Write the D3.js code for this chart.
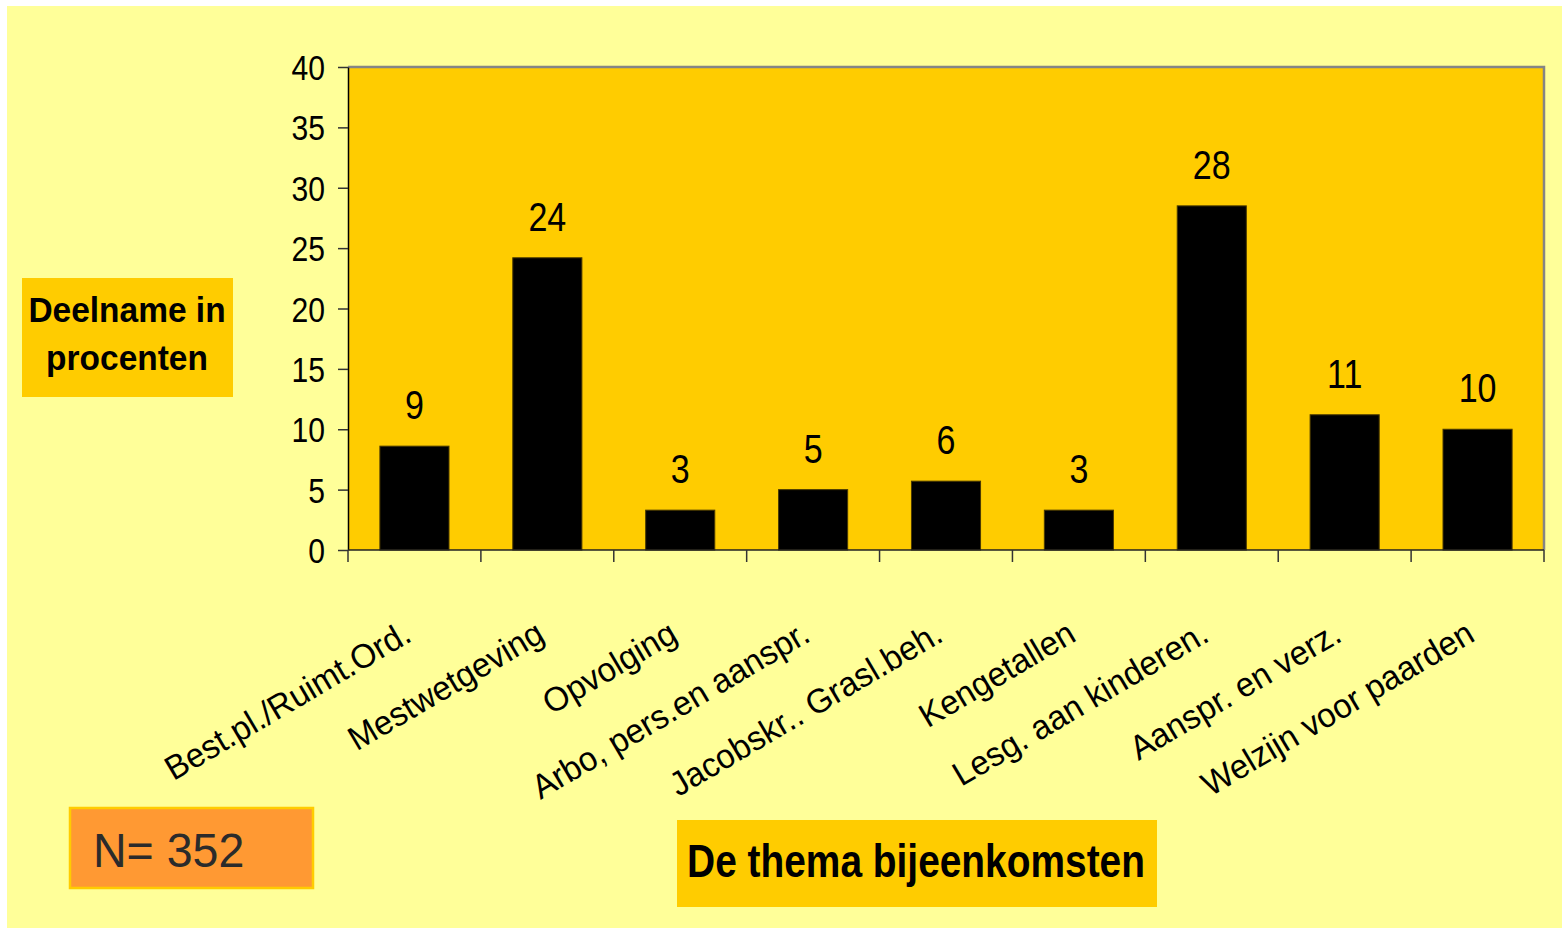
<!DOCTYPE html>
<html>
<head>
<meta charset="utf-8">
<script src="https://cdn.jsdelivr.net/npm/d3@7"></script>
<style>
  body { margin: 0; background: #ffffff; }
  svg { display: block; font-family: "Liberation Sans", Arial, sans-serif; }
</style>
</head>
<body>
<div id="chart"></div>
<script>
  const themes = [
    'Best.pl./Ruimt.Ord.',
    'Mestwetgeving',
    'Opvolging',
    'Arbo, pers.en aanspr.',
    'Jacobskr.. Grasl.beh.',
    'Kengetallen',
    'Lesg. aan kinderen.',
    'Aanspr. en verz.',
    'Welzijn voor paarden'
  ];
  const percentages = [8.6, 24.2, 3.3, 5.0, 5.7, 3.3, 28.5, 11.2, 10.0];
  const valueLabels = ['9', '24', '3', '5', '6', '3', '28', '11', '10'];
  const yTicks = [0, 5, 10, 15, 20, 25, 30, 35, 40];

  const yTitleLines = ['Deelname in', 'procenten'];
  const xTitle = 'De thema bijeenkomsten';
  const nLabel = 'N= 352';

  const width = 1562, height = 928;
  const plot = {left: 348, right: 1544, top: 67, bottom: 550};

  const data = themes.map((t, i) => ({theme: t, value: percentages[i], label: valueLabels[i]}));

  const svg = d3.select("#chart")
    .append("svg")
    .attr("width", width)
    .attr("height", height);

  // pale yellow slide background
  svg.append("rect")
    .attr("x", 7).attr("y", 6)
    .attr("width", width - 7).attr("height", height - 6)
    .attr("fill", "#ffff99");

  const xScale = d3.scaleBand()
    .domain(themes)
    .range([plot.left, plot.right])
    .paddingInner(0.48)
    .paddingOuter(0.24);

  const yScale = d3.scaleLinear()
    .domain([0, 40])
    .range([plot.bottom, plot.top]);

  // plot area
  svg.append("rect")
    .attr("x", plot.left).attr("y", plot.top)
    .attr("width", plot.right - plot.left)
    .attr("height", plot.bottom - plot.top)
    .attr("fill", "#ffcc00");

  // grey frame top + right
  svg.append("path")
    .attr("d", `M${plot.left},${plot.top}H${plot.right}V${plot.bottom}`)
    .attr("fill", "none")
    .attr("stroke", "#858585")
    .attr("stroke-width", 2.5);

  // bars
  svg.append("g")
    .selectAll("rect")
    .data(data)
    .join("rect")
      .attr("x", d => xScale(d.theme))
      .attr("y", d => yScale(d.value))
      .attr("width", xScale.bandwidth())
      .attr("height", d => yScale(0) - yScale(d.value))
      .attr("fill", "#000")
      .attr("stroke", "#4a3a00")
      .attr("stroke-width", 1);

  // value labels above the bars
  svg.append("g")
    .selectAll("text")
    .data(data)
    .join("text")
      .attr("transform", d => `translate(${xScale(d.theme) + xScale.bandwidth() / 2},${yScale(d.value) - 27}) scale(0.83,1)`)
      .attr("text-anchor", "middle")
      .style("font-size", "41px")
      .attr("fill", "#000")
      .text(d => d.label);

  // y axis
  const yAxis = d3.axisLeft(yScale)
    .tickValues(yTicks)
    .tickSize(10)
    .tickSizeOuter(0);

  const yGroup = svg.append("g")
    .attr("transform", `translate(${plot.left},0)`)
    .call(yAxis);

  yGroup.select(".domain").attr("stroke", "#000").attr("stroke-width", 1.5);
  yGroup.selectAll(".tick line").attr("stroke", "#333").attr("stroke-width", 1.5);
  yGroup.selectAll(".tick text")
    .attr("x", null)
    .attr("dy", "0.36em")
    .attr("transform", "translate(-23,0) scale(0.86,1)")
    .attr("fill", "#000")
    .style("font-size", "35px")
    .style("font-family", "'Liberation Sans', Arial, sans-serif");

  // x axis line and ticks at category boundaries
  const halfGap = xScale.step() * xScale.paddingInner() / 2;
  const boundaries = themes.map(t => xScale(t) - halfGap).concat([plot.right]);

  svg.append("line")
    .attr("x1", plot.left).attr("x2", plot.right)
    .attr("y1", plot.bottom).attr("y2", plot.bottom)
    .attr("stroke", "#222")
    .attr("stroke-width", 1.5);

  svg.append("g")
    .selectAll("line")
    .data(boundaries)
    .join("line")
      .attr("x1", d => d).attr("x2", d => d)
      .attr("y1", plot.bottom).attr("y2", plot.bottom + 12)
      .attr("stroke", "#333")
      .attr("stroke-width", 1.5);

  // rotated category labels
  svg.append("g")
    .selectAll("text")
    .data(themes)
    .join("text")
      .attr("transform", d => `translate(${xScale(d) + xScale.bandwidth() / 2 - 1},640) rotate(-30.5) scale(0.97,1)`)
      .attr("text-anchor", "end")
      .style("font-size", "34px")
      .attr("fill", "#000")
      .text(d => d);

  // y title box
  svg.append("rect")
    .attr("x", 22).attr("y", 278)
    .attr("width", 211).attr("height", 119)
    .attr("fill", "#ffcc00");

  svg.append("g")
    .selectAll("text")
    .data(yTitleLines)
    .join("text")
      .attr("transform", (d, i) => `translate(127,${322 + i * 48}) scale(0.93,1)`)
      .attr("text-anchor", "middle")
      .style("font-size", "36px")
      .style("font-weight", "bold")
      .attr("fill", "#000")
      .text(d => d);

  // x title box
  svg.append("rect")
    .attr("x", 677).attr("y", 820)
    .attr("width", 480).attr("height", 87)
    .attr("fill", "#ffcc00");

  svg.append("text")
    .attr("transform", "translate(916,877) scale(0.845,1)")
    .attr("text-anchor", "middle")
    .style("font-size", "46px")
    .style("font-weight", "bold")
    .attr("fill", "#000")
    .text(xTitle);

  // N box
  svg.append("rect")
    .attr("x", 70).attr("y", 808)
    .attr("width", 243).attr("height", 80)
    .attr("fill", "#ff9933")
    .attr("stroke", "#ffcc00")
    .attr("stroke-width", 2.5);

  svg.append("text")
    .attr("transform", "translate(93,867) scale(0.97,1)")
    .style("font-size", "48px")
    .attr("fill", "#2b2b2b")
    .text(nLabel);
</script>
</body>
</html>
